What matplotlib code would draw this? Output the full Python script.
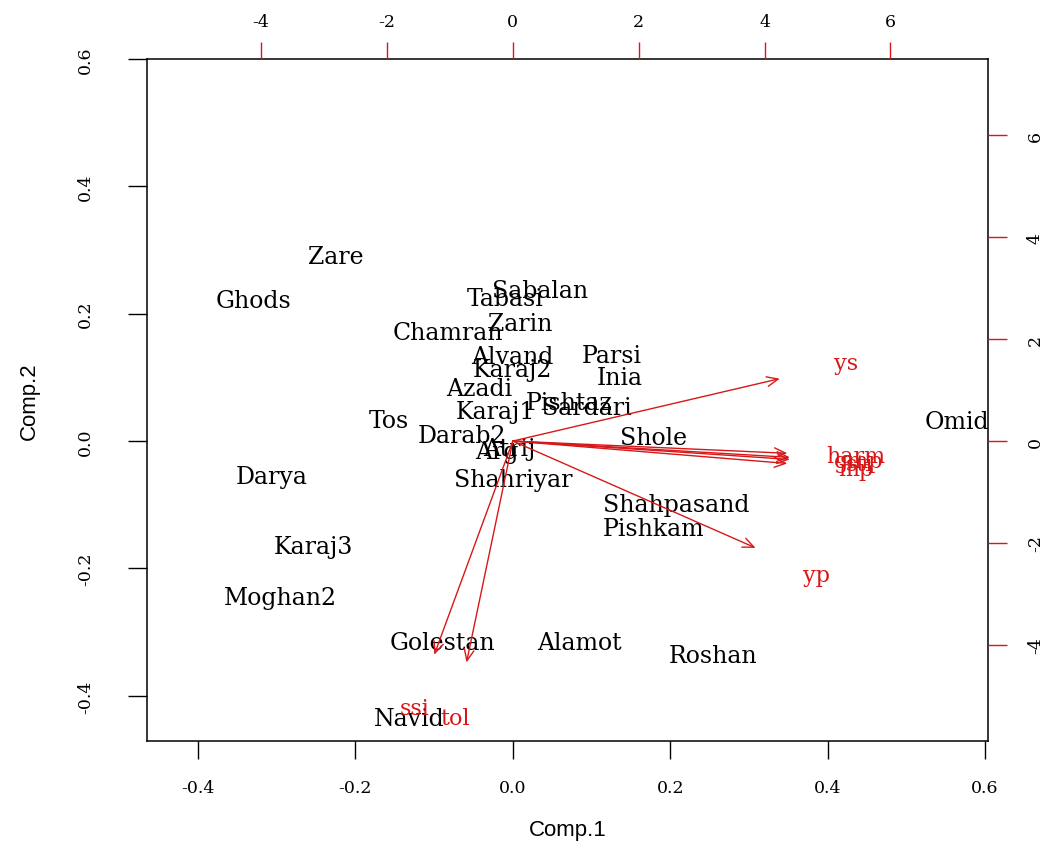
import matplotlib
matplotlib.use("Agg")
import matplotlib.pyplot as plt

# scores (Comp.1, Comp.2)
genotypes = ["Zare", "Ghods", "Sabalan", "Tabasi", "Zarin", "Chamran", "Alvand", "Karaj2",
             "Parsi", "Inia", "Azadi", "Karaj1", "Pishtaz", "Sardari", "Tos", "Darab2",
             "Atrij", "Arg", "Shole", "Omid", "Darya", "Shahriyar", "Shahpasand", "Pishkam",
             "Karaj3", "Moghan2", "Golestan", "Alamot", "Roshan", "Navid"]
comp1 = [-0.225, -0.329, 0.034, -0.010, 0.009, -0.083, -0.001, 0.000,
         0.126, 0.136, -0.043, -0.022, 0.071, 0.094, -0.158, -0.064,
         -0.004, -0.020, 0.179, 0.564, -0.307, 0.001, 0.208, 0.179,
         -0.253, -0.295, -0.090, 0.085, 0.255, -0.132]
comp2 = [0.290, 0.220, 0.237, 0.223, 0.184, 0.170, 0.133, 0.113,
         0.135, 0.099, 0.082, 0.046, 0.061, 0.052, 0.033, 0.008,
         -0.011, -0.016, 0.005, 0.030, -0.055, -0.061, -0.100, -0.138,
         -0.165, -0.246, -0.316, -0.316, -0.336, -0.435]

# loadings
variables = ["ys", "harm", "gmp", "sti", "mp", "yp", "ssi", "tol"]
load1 = [5.30, 5.45, 5.50, 5.50, 5.45, 4.82, -1.56, -0.92]
load2 = [1.53, -0.30, -0.40, -0.45, -0.55, -2.62, -5.24, -5.43]

k = 12.5
xlim = (-0.465, 0.604)
ylim = (-0.471, 0.600)
red = "#d81818"

fig = plt.figure(figsize=(10.5, 8.54), dpi=100)
ax = fig.add_axes([0.140, 0.131, 0.801, 0.799])
ax.set_xlim(xlim)
ax.set_ylim(ylim)

for name, x, y in zip(genotypes, comp1, comp2):
    ax.text(x, y, name, ha="center", va="center", fontsize=17,
            family="DejaVu Serif", color="black")

ax.set_xticks([-0.4, -0.2, 0.0, 0.2, 0.4, 0.6])
ax.set_yticks([-0.4, -0.2, 0.0, 0.2, 0.4, 0.6])
ax.set_xticklabels(["-0.4", "-0.2", "0.0", "0.2", "0.4", "0.6"], family="DejaVu Serif", fontsize=12.5)
ax.set_yticklabels(["-0.4", "-0.2", "0.0", "0.2", "0.4", "0.6"], family="DejaVu Serif",
                   fontsize=12.5, rotation=90, va="center")
ax.tick_params(axis="x", length=13, width=1, pad=14)
ax.tick_params(axis="y", length=14, width=1, pad=24)
ax.set_xlabel("Comp.1", fontsize=16, family="Liberation Sans", labelpad=17)
ax.set_ylabel("Comp.2", fontsize=16, family="Liberation Sans")
ax.yaxis.set_label_coords(-0.127, 0.5)
for s in ax.spines.values():
    s.set_linewidth(1.1)

# loading axes (top / right)
ax2 = fig.add_axes(ax.get_position(), frameon=False)
ax2.set_xlim(xlim[0] * k, xlim[1] * k)
ax2.set_ylim(ylim[0] * k, ylim[1] * k)
ax2.xaxis.tick_top()
ax2.yaxis.tick_right()
ax2.set_xticks([-4, -2, 0, 2, 4, 6])
ax2.set_yticks([-4, -2, 0, 2, 4, 6])
ax2.set_xticklabels(["-4", "-2", "0", "2", "4", "6"], family="DejaVu Serif", fontsize=12.5)
ax2.set_yticklabels(["-4", "-2", "0", "2", "4", "6"], family="DejaVu Serif", fontsize=12.5,
                    rotation=90, va="center")
ax2.tick_params(axis="x", length=12, width=1, pad=9, color=red)
ax2.tick_params(axis="y", length=14, width=1, pad=14, color=red)

for name, x, y in zip(variables, load1, load2):
    ax2.annotate("", xy=(x * 0.8, y * 0.8), xytext=(0, 0),
                 arrowprops=dict(arrowstyle="->,head_length=0.8,head_width=0.35",
                                 color=red, lw=1, shrinkA=0, shrinkB=0))
    ax2.text(x, y, name, ha="center", va="center", fontsize=16,
             family="DejaVu Serif", color=red)

fig.savefig("out.png", dpi=100)
